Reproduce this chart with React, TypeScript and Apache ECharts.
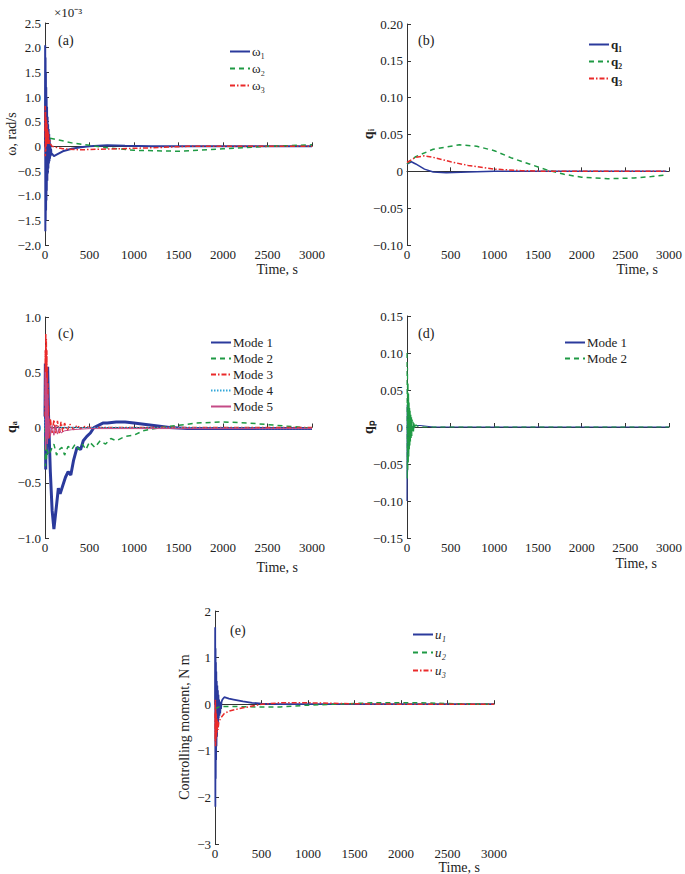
import React, { useEffect, useRef } from "react";
import * as echarts from "echarts";

// ---------- data (time s, value) ----------
const timeTicks = [0, 500, 1000, 1500, 2000, 2500, 3000];

// (a) angular velocity, x1e-3 rad/s
const omega1 = [[0,0],[2,2.05],[4,-1.72],[6,1.8],[8,-1.5],[10,1.5],[12,-1.3],[14,1.2],[16,-1.1],[18,1.0],[20,-0.9],[23,0.8],[26,-0.7],[29,0.6],[32,-0.55],[35,0.45],[38,-0.45],[41,0.35],[44,-0.35],[47,0.25],[50,-0.3],[53,0.15],[56,-0.25],[60,0.05],[64,-0.2],[68,-0.05],[72,-0.15],[80,-0.15],[100,-0.2],[130,-0.17],[200,-0.1],[300,-0.05],[400,-0.02],[500,0],[700,0.02],[900,0.01],[1200,0],[3000,0]];
const omega2 = [[0,0.1],[20,0.2],[40,0.17],[100,0.15],[300,0.07],[500,0.02],[700,-0.03],[1000,-0.08],[1500,-0.1],[2000,-0.05],[2500,0],[3000,0.03]];
const omega3 = [[0,0.3],[2,0.82],[4,-0.2],[6,0.7],[8,-0.1],[10,0.6],[13,0.0],[16,0.55],[19,0.05],[22,0.45],[25,0.05],[28,0.35],[31,0.05],[34,0.3],[37,0.05],[40,0.25],[45,0.05],[50,0.15],[60,0.05],[80,0.0],[120,-0.02],[200,-0.05],[400,-0.07],[800,-0.05],[1200,-0.03],[1600,0],[3000,0]];

// (b) quaternion components
const q1 = [[0,0.01],[50,0.013],[100,0.01],[200,0.003],[300,-0.001],[450,-0.002],[700,-0.001],[1000,0],[2970,0]];
const q2 = [[0,0.01],[100,0.02],[300,0.03],[600,0.036],[800,0.034],[1000,0.028],[1200,0.018],[1400,0.01],[1600,0.002],[1800,-0.004],[2000,-0.008],[2300,-0.01],[2600,-0.009],[2800,-0.007],[2970,-0.005]];
const q3 = [[0,0.012],[100,0.019],[200,0.021],[300,0.019],[500,0.013],[700,0.008],[1000,0.003],[1300,0.001],[1600,0],[2970,0]];

// (c) antenna modes
const qa1 = [[0,0.1],[4,0.58],[8,-0.38],[12,0.5],[16,-0.25],[20,0.55],[25,0],[30,0.55],[40,0.1],[60,-0.4],[80,-0.75],[100,-0.92],[130,-0.7],[150,-0.55],[170,-0.6],[190,-0.55],[230,-0.45],[260,-0.4],[290,-0.43],[320,-0.3],[360,-0.18],[400,-0.2],[430,-0.12],[470,-0.08],[510,-0.05],[550,0.0],[600,0.02],[650,0.04],[700,0.04],[800,0.05],[900,0.05],[1000,0.04],[1200,0.02],[1400,0.0],[1600,-0.01],[2000,-0.01],[3000,-0.01]];
const qa2 = [[0,0],[5,-0.35],[10,-0.1],[15,-0.3],[20,-0.2],[40,-0.25],[70,-0.2],[100,-0.15],[130,-0.25],[160,-0.2],[190,-0.18],[220,-0.25],[260,-0.17],[300,-0.2],[340,-0.15],[380,-0.2],[420,-0.15],[460,-0.2],[500,-0.13],[560,-0.18],[620,-0.12],[680,-0.15],[740,-0.1],[800,-0.12],[900,-0.08],[1000,-0.07],[1100,-0.03],[1300,0],[1500,0.02],[1700,0.04],[2000,0.05],[2300,0.04],[2600,0.02],[2900,0],[3000,-0.01]];
const qa3 = [[0,0.1],[3,0.7],[6,0.1],[9,0.85],[12,0.2],[15,0.8],[18,0.1],[21,0.7],[24,0.05],[27,0.55],[30,0.0],[33,0.4],[36,-0.05],[40,0.2],[45,-0.1],[60,0.08],[80,-0.05],[100,0.07],[120,-0.06],[140,0.06],[160,-0.05],[180,0.05],[200,-0.04],[220,0.04],[250,-0.03],[280,0.03],[320,-0.02],[360,0.02],[400,-0.01],[450,0.01],[500,0],[3000,0]];
const qa4 = [[0,0.08],[5,-0.05],[10,0.05],[15,-0.03],[30,0],[3000,-0.01]];
const qa5 = [[0,0.2],[4,0.5],[8,-0.2],[12,0.45],[16,-0.1],[20,0.4],[25,-0.15],[30,0.3],[35,-0.1],[40,0.1],[60,-0.08],[80,0.02],[100,-0.07],[120,0.02],[140,-0.06],[160,0.0],[180,-0.05],[220,-0.03],[300,-0.02],[500,-0.01],[3000,-0.01]];

// (d) panel modes
const qp1 = [[0,-0.1],[3,0.03],[6,-0.06],[9,0.02],[12,-0.04],[15,0.015],[20,-0.025],[30,-0.01],[50,-0.005],[80,0.002],[150,0.002],[300,0],[3000,0]];
const qp2 = [[0,0.1],[3,-0.07],[6,0.08],[9,-0.06],[12,0.06],[15,-0.05],[18,0.045],[21,-0.04],[24,0.035],[27,-0.03],[30,0.028],[33,-0.025],[36,0.022],[40,-0.02],[44,0.017],[48,-0.015],[52,0.013],[56,-0.012],[60,0.01],[65,-0.008],[70,0.007],[75,-0.006],[80,0.005],[90,-0.003],[100,0.003],[120,0.001],[200,0],[3000,0]];

// (e) controlling moment, N m
const u1 = [[0,0],[2,1.65],[4,-2.2],[6,1.2],[8,-1.6],[10,0.9],[12,-1.2],[14,0.7],[16,-0.9],[19,0.5],[22,-0.7],[25,0.4],[28,-0.5],[31,0.3],[34,-0.4],[37,0.2],[40,-0.3],[44,0.1],[48,-0.25],[52,0.05],[56,-0.2],[60,0.0],[65,-0.1],[70,0.05],[80,0.1],[100,0.15],[150,0.12],[200,0.1],[300,0.06],[400,0.03],[500,0.01],[700,0],[3000,0]];
const u2 = [[0,-0.1],[50,-0.05],[200,-0.05],[500,-0.06],[700,-0.06],[1000,-0.02],[1300,0],[1700,0.03],[2200,0.03],[2600,0.01],[3000,0]];
const u3 = [[0,-0.2],[2,-0.8],[4,0.1],[6,-0.9],[8,-0.1],[10,-0.8],[13,-0.2],[16,-0.7],[20,-0.3],[24,-0.6],[28,-0.35],[32,-0.55],[40,-0.4],[60,-0.3],[100,-0.2],[150,-0.15],[250,-0.1],[400,-0.04],[500,0.0],[700,0.03],[1000,0.03],[1500,0.01],[2000,0],[3000,0]];

const BLUE = "#2b3a9c";
const GREEN = "#1f9a44";
const RED = "#ea2a2a";
const CYAN = "#33a7d9";
const MAGENTA = "#c44a86";
const FONT = "Liberation Serif";

const grids = [
  { left: 45, top: 23, width: 267, height: 222 },
  { left: 407, top: 24, width: 264, height: 221 },
  { left: 45, top: 317, width: 267, height: 221 },
  { left: 407, top: 316, width: 265, height: 222 },
  { left: 215, top: 611, width: 279, height: 233 },
];

const yRanges = [
  { min: -2.0, max: 2.5, interval: 0.5, dec: 1 },
  { min: -0.1, max: 0.2, interval: 0.05, dec: 2 },
  { min: -1.0, max: 1.0, interval: 0.5, dec: 1 },
  { min: -0.15, max: 0.15, interval: 0.05, dec: 2 },
  { min: -3, max: 2, interval: 1, dec: 0 },
];

function fmt(dec: number) {
  return (v: number) => {
    if (Math.abs(v) < 1e-9) return "0";
    return (v < 0 ? "\u2212" : "") + Math.abs(v).toFixed(dec);
  };
}

function line(name: string, data: number[][], idx: number, color: string, width: number, type: any) {
  return {
    type: "line",
    name,
    xAxisIndex: idx,
    yAxisIndex: idx,
    data,
    showSymbol: false,
    symbol: "none",
    lineStyle: { color, width, type },
    itemStyle: { color },
    z: 2,
  };
}

export default function App() {
  const ref = useRef<HTMLDivElement>(null);
  useEffect(() => {
    if (!ref.current) return;
    const chart = echarts.init(ref.current, undefined, { renderer: "svg" });
    const axisCommon = {
      axisLine: { show: true, lineStyle: { color: "#333", width: 1 } },
      axisTick: { show: true, inside: true, length: 4, lineStyle: { color: "#333" } },
      splitLine: { show: false },
    };
    const xAxes = grids.map((_, i) => ({
      type: "value",
      gridIndex: i,
      min: timeTicks[0],
      max: timeTicks[timeTicks.length - 1],
      interval: timeTicks[1] - timeTicks[0],
      ...axisCommon,
      axisLabel: { fontFamily: FONT, fontSize: 13, color: "#222", margin: 3, formatter: (v: number) => String(v) },
    }));
    const yAxes = yRanges.map((r, i) => ({
      type: "value",
      gridIndex: i,
      min: r.min,
      max: r.max,
      interval: r.interval,
      ...axisCommon,
      axisLabel: { fontFamily: FONT, fontSize: 13, color: "#222", margin: 4, formatter: fmt(r.dec) },
    }));
    const series = [
      line("ω₁", omega1, 0, BLUE, 2, "solid"),
      line("ω₂", omega2, 0, GREEN, 1.5, [5, 4]),
      line("ω₃", omega3, 0, RED, 1.5, [5, 2, 1.5, 2]),
      line("q₁", q1, 1, BLUE, 1.5, "solid"),
      line("q₂", q2, 1, GREEN, 1.5, [5, 4]),
      line("q₃", q3, 1, RED, 1.5, [5, 2, 1.5, 2]),
      line("Mode 1 ", qa1, 2, BLUE, 3, "solid"),
      line("Mode 2 ", qa2, 2, GREEN, 1.5, [5, 4]),
      line("Mode 3", qa3, 2, RED, 1.5, [5, 2, 1.5, 2]),
      line("Mode 4", qa4, 2, CYAN, 1.5, [1.5, 1.5]),
      line("Mode 5", qa5, 2, MAGENTA, 1, "solid"),
      line("Mode 1", qp1, 3, BLUE, 1.2, "solid"),
      line("Mode 2", qp2, 3, GREEN, 1.2, [5, 4]),
      line("u₁", u1, 4, BLUE, 1.8, "solid"),
      line("u₂", u2, 4, GREEN, 1.5, [5, 4]),
      line("u₃", u3, 4, RED, 1.5, [5, 2, 1.5, 2]),
    ];
    const legendCommon = {
      orient: "vertical",
      itemWidth: 20,
      itemHeight: 10,
      selectedMode: false,
      itemStyle: { opacity: 0, borderWidth: 0 },
      textStyle: { fontFamily: FONT, fontSize: 13, color: "#222", padding: [0, 0, 0, -3] },
    };
    const legends = [
      { ...legendCommon, left: 224, top: 40, itemGap: 4, data: ["ω₁", "ω₂", "ω₃"] },
      { ...legendCommon, left: 583, top: 33, itemGap: 4, data: ["q₁", "q₂", "q₃"],
        textStyle: { ...legendCommon.textStyle, fontWeight: "bold" } },
      { ...legendCommon, left: 205, top: 331, itemGap: 3, data: ["Mode 1 ", "Mode 2 ", "Mode 3", "Mode 4", "Mode 5"] },
      { ...legendCommon, left: 559, top: 331, itemGap: 3, data: ["Mode 1", "Mode 2"] },
      { ...legendCommon, left: 407, top: 623, itemGap: 5, data: ["u₁", "u₂", "u₃"],
        textStyle: { ...legendCommon.textStyle, fontStyle: "italic" } },
    ];
    const txt = (x: number, y: number, text: string, extra: any = {}) => ({
      type: "text",
      x,
      y,
      style: { text, fontFamily: FONT, fontSize: 14, fill: "#222", textAlign: "left", textVerticalAlign: "middle", ...extra },
    });
    const vtxt = (x: number, y: number, text: string, extra: any = {}) => ({
      type: "text",
      x,
      y,
      rotation: Math.PI / 2,
      style: { text, fontFamily: FONT, fontSize: 14, fill: "#222", textAlign: "center", textVerticalAlign: "middle", ...extra },
    });
    const graphic = [
      txt(54, 12, "×10⁻³", { fontSize: 13 }),
      txt(58, 40, "(a)"),
      txt(418, 40, "(b)"),
      txt(58, 333, "(c)"),
      txt(418, 333, "(d)"),
      txt(230, 630, "(e)"),
      txt(298, 269, "Time, s", { textAlign: "right" }),
      txt(658, 269, "Time, s", { textAlign: "right" }),
      txt(298, 567, "Time, s", { textAlign: "right" }),
      txt(657, 563, "Time, s", { textAlign: "right" }),
      txt(480, 867, "Time, s", { textAlign: "right" }),
      vtxt(11, 134, "ω, rad/s"),
      vtxt(368, 134, "qᵢ", { fontWeight: "bold" }),
      vtxt(11, 427, "qₐ", { fontWeight: "bold" }),
      vtxt(368, 427, "qₚ", { fontWeight: "bold" }),
      vtxt(184, 727, "Controlling moment, N m"),
    ];
    chart.setOption({
      animation: false,
      backgroundColor: "#fff",
      grid: grids,
      xAxis: xAxes,
      yAxis: yAxes,
      legend: legends,
      series,
      graphic,
    });
    return () => chart.dispose();
  }, []);
  return <div ref={ref} style={{ position: "fixed", left: 0, top: 0, width: 685, height: 874 }} />;
}
